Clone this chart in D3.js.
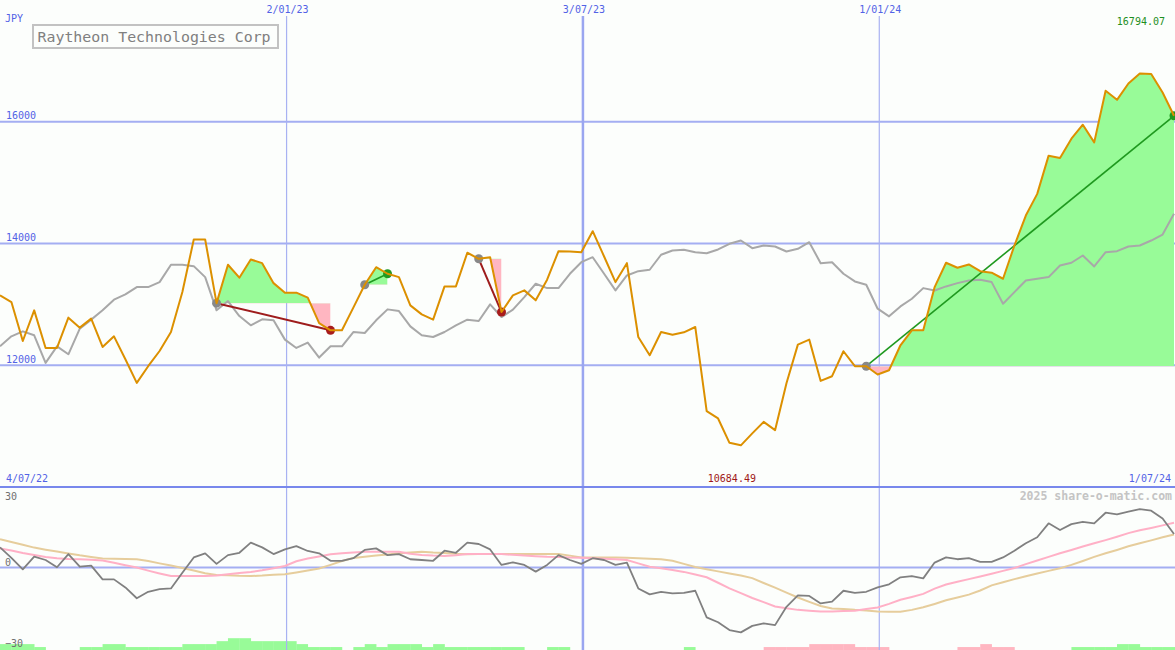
<!DOCTYPE html>
<html><head><meta charset="utf-8">
<script src="https://cdn.jsdelivr.net/npm/d3@7"></script>
<style>
html,body{margin:0;padding:0;background:#fcfefc;}
svg{display:block;}
text{font-family:"DejaVu Sans Mono","Liberation Mono",monospace;}
</style></head><body>
<svg id="c" width="1175" height="650"></svg>
<script>
const title = "Raytheon Technologies Corp";
const currency = "JPY";
const startDate = new Date(2022, 6, 10);
const endDate = new Date(2024, 5, 30);

const price = [13148, 13038, 12398, 12902, 12284, 12284, 12782, 12618, 12766, 12300,
 12475, 12098, 11710, 11984, 12234, 12546, 13202, 14066, 14066, 13020,
 13651, 13438, 13738, 13677, 13349, 13192, 13192, 13110, 12693, 12574,
 12574, 12946, 13323, 13611, 13503, 13448, 12984, 12836, 12749, 13295,
 13295, 13848, 13749, 13775, 12874, 13148, 13230, 13066, 13405, 13874,
 13869, 13857, 14202, 13787, 13366, 13677, 12464, 12164, 12546, 12500,
 12541, 12628, 11246, 11126, 10726, 10684.49, 10880, 11070, 10934, 11705,
 12339, 12421, 11743, 11820, 12230, 11984, 11984, 11848, 11918, 12328,
 12574, 12574, 13284, 13684, 13602, 13656, 13546, 13520, 13421, 13967,
 14459, 14815, 15443, 15405, 15721, 15951, 15661, 16508, 16360, 16628,
 16794.07, 16785, 16480, 16098];

const average = [12311, 12475, 12557, 12492, 12038, 12311, 12180, 12602, 12749, 12902,
 13077, 13164, 13284, 13284, 13366, 13651, 13651, 13628, 13448, 12902,
 13054, 12808, 12656, 12754, 12738, 12421, 12284, 12372, 12126, 12311,
 12311, 12546, 12530, 12738, 12918, 12890, 12639, 12492, 12464, 12546,
 12656, 12749, 12726, 13000, 12792, 12913, 13120, 13339, 13267, 13267,
 13503, 13693, 13775, 13503, 13229, 13475, 13546, 13569, 13815, 13885,
 13897, 13857, 13841, 13902, 13995, 14049, 13923, 13967, 13951, 13869,
 13913, 14021, 13677, 13693, 13503, 13377, 13323, 12929, 12803, 12967,
 13093, 13267, 13229, 13295, 13349, 13393, 13405, 13366, 13011, 13202,
 13393, 13421, 13448, 13639, 13684, 13803, 13623, 13857, 13874, 13951,
 13967, 14049, 14147, 14487];

const momentum = [7.8, 3.7, -0.7, 4.2, 2.9, 0.1, 5.2, 0.3, 0.7, -4.6,
 -4.6, -7.7, -11.9, -9.4, -8.4, -8.1, -2.0, 3.9, 5.5, 1.4,
 4.8, 5.7, 9.6, 7.8, 5.2, 7.0, 8.3, 6.4, 5.5, 2.6,
 2.6, 3.6, 6.8, 7.4, 4.8, 5.2, 3.2, 2.9, 2.6, 6.5,
 5.7, 9.6, 9.1, 7.0, 1.0, 2.0, 1.0, -1.6, 1.0, 4.8,
 2.9, 1.4, 3.6, 2.9, 1.0, 1.9, -8.1, -10.4, -9.4, -10.0,
 -9.8, -9.0, -19.3, -21.2, -24.2, -25.1, -22.6, -21.6, -22.3, -15.2,
 -10.8, -11.0, -13.9, -13.2, -9.0, -9.8, -9.4, -7.7, -6.5, -3.8,
 -3.3, -4.2, 1.9, 3.9, 3.2, 3.6, 2.2, 2.2, 3.9, 6.5,
 9.4, 11.7, 17.1, 14.5, 16.8, 17.7, 17.1, 21.2, 20.6, 21.6,
 22.6, 22.0, 19.0, 13.0];

const signal = [7.4, 6.6, 5.6, 4.8, 4.1, 3.6, 3.3, 3.2, 3.0, 2.7,
 1.8, 0.9, 0.0, -1.2, -2.3, -3.3, -3.3, -3.3, -3.3, -3.1,
 -2.6, -2.1, -1.7, -1.1, -0.3, 0.6, 2.4, 3.5, 4.3, 5.1,
 5.5, 5.8, 6.1, 6.1, 6.1, 6.1, 5.3, 4.8, 4.6, 4.5,
 4.7, 5.2, 5.2, 5.2, 5.2, 4.9, 4.6, 4.4, 4.2, 4.1,
 3.9, 3.8, 3.6, 3.4, 3.2, 2.9, 1.6, 0.3, -0.3, -1.0,
 -1.7, -2.7, -3.8, -5.9, -8.1, -9.9, -11.8, -13.4, -15.1, -15.8,
 -16.4, -16.7, -17.0, -17.0, -16.8, -16.7, -16.1, -15.5, -14.1, -12.5,
 -11.4, -10.2, -8.2, -6.6, -5.5, -4.5, -3.5, -2.4, -1.3, -0.2,
 1.3, 2.7, 4.1, 5.5, 6.8, 8.1, 9.4, 10.6, 11.9, 13.3,
 14.4, 15.3, 16.3, 17.3];

const slow = [10.9, 9.9, 8.8, 7.7, 6.9, 6.2, 5.4, 4.7, 4.1, 3.5,
 3.4, 3.3, 3.2, 2.5, 1.6, 0.8, -0.2, -1.2, -2.2, -2.9,
 -3.0, -3.2, -3.3, -3.1, -2.8, -2.6, -1.9, -1.2, -0.4, 1.0,
 2.5, 3.7, 4.2, 4.6, 5.0, 5.5, 5.8, 6.1, 5.8, 5.6,
 5.3, 5.1, 5.2, 5.2, 5.2, 5.2, 5.2, 5.2, 5.2, 5.2,
 4.6, 3.9, 3.9, 3.9, 3.9, 3.8, 3.6, 3.4, 3.2, 2.6,
 1.4, 0.2, -0.7, -1.5, -2.3, -3.1, -4.1, -6.0, -7.8, -9.7,
 -11.6, -13.3, -14.9, -15.9, -16.1, -16.4, -16.6, -17.0, -17.1, -17.1,
 -16.4, -15.4, -14.1, -12.7, -11.6, -10.5, -8.9, -6.9, -5.7, -4.5,
 -3.4, -2.3, -1.3, -0.3, 1.0, 2.5, 4.1, 5.5, 6.8, 8.2,
 9.4, 10.5, 11.7, 12.8];

const volume = [2, 2, 2, 1, 0, 0, 0, 1, 1, 2,
 2, 1, 1, 1, 1, 1, 2, 2, 2, 3,
 4, 4, 3, 3, 3, 3, 2, 1, 1, 1,
 0, 1, 2, 1, 2, 2, 2, 1, 2, 1,
 1, 1, 1, 1, 1, 1, 0, 0, 1, 1,
 0, 0, 0, 0, 0, 0, 0, 0, 0, 0,
 1, 0, 0, 0, 0, 0, 0, -1, -1, -1,
 -1, -2, -2, -2, -2, -1, -1, -1, 0, 0,
 0, 0, 0, 0, -1, -1, -2, -1, -1, 0,
 0, 0, 0, 0, 1, 1, 1, 1, 2, 2,
 1, 1, 1, 1];

const trends = [[19, 29], [32, 34], [42, 44], [76, 103]];
const priceTicks = [12000, 14000, 16000];
const oscTicks = [30, 0, -30];
const dateTicks = [
  {date: new Date(2023, 0, 2), label: "2/01/23", major: false},
  {date: new Date(2023, 6, 3), label: "3/07/23", major: true},
  {date: new Date(2024, 0, 1), label: "1/01/24", major: false}
];
const startLabel = "4/07/22";
const endLabel = "1/07/24";
const credit = "2025 share-o-matic.com";

const dates = price.map((_, i) => d3.timeDay.offset(startDate, 7 * i));

const W = 1175, H = 650;
const svg = d3.select("#c");
const x = d3.scaleTime().domain([startDate, endDate]).range([0, 1174]);
const y = d3.scaleLinear().domain([10000, 18000]).range([487, 0]);
const yo = d3.scaleLinear().domain([-30, 30]).range([645, 490]);
const vh = d3.scaleLinear().domain([0, 4]).range([0, 11.8]);

const gridCol = "#a4aef2";
const blue = "#5262e6";

// volume bars (bottom)
const step = x(dates[1]) - x(dates[0]);
svg.append("g").selectAll("rect").data(volume.map((v, i) => ({v, d: dates[i]})).filter(o => o.v !== 0))
  .join("rect")
  .attr("x", o => x(o.d)).attr("width", step + 0.3)
  .attr("y", o => H - vh(Math.abs(o.v))).attr("height", o => vh(Math.abs(o.v)))
  .attr("fill", o => o.v > 0 ? "#98fb98" : "#ffb6c1");

// horizontal grid main
svg.append("g").selectAll("line").data(priceTicks).join("line")
  .attr("x1", 0).attr("x2", W).attr("y1", d => y(d)).attr("y2", d => y(d))
  .attr("stroke", gridCol).attr("stroke-width", 2);

// vertical grid
svg.append("g").selectAll("line").data(dateTicks).join("line")
  .attr("x1", d => x(d.date)).attr("x2", d => x(d.date))
  .attr("y1", 16).attr("y2", H)
  .attr("stroke", d => d.major ? "#9aa6f0" : "#a8b2f2")
  .attr("stroke-width", d => d.major ? 2.5 : 1.2);

// separator & zero line
svg.append("line").attr("x1", 0).attr("x2", W).attr("y1", y(10000)).attr("y2", y(10000))
  .attr("stroke", "#7888ec").attr("stroke-width", 2);
svg.append("line").attr("x1", 0).attr("x2", W).attr("y1", yo(0)).attr("y2", yo(0))
  .attr("stroke", gridCol).attr("stroke-width", 2);

// trend fills
const defs = svg.append("defs");
trends.forEach(([s, e], k) => {
  const base = price[s];
  const xs = x(dates[s]), xe = x(dates[e]), yb = y(base);
  defs.append("clipPath").attr("id", "up" + k).append("rect")
    .attr("x", xs).attr("y", 0).attr("width", xe - xs).attr("height", yb);
  defs.append("clipPath").attr("id", "dn" + k).append("rect")
    .attr("x", xs).attr("y", yb).attr("width", xe - xs).attr("height", y(10000) - yb);
  const seg = d3.range(s, e + 1);
  const area = d3.area().x(i => x(dates[i])).y0(yb).y1(i => y(price[i]));
  svg.append("path").attr("d", area(seg)).attr("fill", "#98fb98").attr("clip-path", `url(#up${k})`);
  svg.append("path").attr("d", area(seg)).attr("fill", "#ffb6c1").attr("clip-path", `url(#dn${k})`);
});

// average line
const line = (arr, ys) => d3.line().x((_, i) => x(dates[i])).y(v => ys(v))(arr);
svg.append("path").attr("d", line(average, y)).attr("fill", "none")
  .attr("stroke", "#a8a8a8").attr("stroke-width", 2).attr("stroke-linejoin", "round");

// trend lines and dots
trends.forEach(([s, e]) => {
  const up = price[e] >= price[s];
  svg.append("line")
    .attr("x1", x(dates[s])).attr("y1", y(price[s]))
    .attr("x2", x(dates[e])).attr("y2", y(price[e]))
    .attr("stroke", up ? "#1f991f" : "#9e1c1c").attr("stroke-width", up ? 1.6 : 2);
  svg.append("circle").attr("cx", x(dates[s])).attr("cy", y(price[s])).attr("r", 4.5).attr("fill", "#888888");
  svg.append("circle").attr("cx", x(dates[e])).attr("cy", y(price[e])).attr("r", 4.5)
    .attr("fill", up ? "#229922" : "#a81c1c");
});

// price line
svg.append("path").attr("d", line(price, y)).attr("fill", "none")
  .attr("stroke", "#dc9000").attr("stroke-width", 2).attr("stroke-linejoin", "round");

// oscillator lines
svg.append("path").attr("d", line(slow, yo)).attr("fill", "none")
  .attr("stroke", "#e6cd9c").attr("stroke-width", 2);
svg.append("path").attr("d", line(signal, yo)).attr("fill", "none")
  .attr("stroke", "#ffb0c6").attr("stroke-width", 2);
svg.append("path").attr("d", line(momentum, yo)).attr("fill", "none")
  .attr("stroke", "#808080").attr("stroke-width", 1.8).attr("stroke-linejoin", "round");

// labels
const txt = (t, xx, yy, opts = {}) => svg.append("text").text(t).attr("x", xx).attr("y", yy)
  .attr("font-size", opts.size || 10).attr("fill", opts.fill || blue)
  .attr("text-anchor", opts.anchor || "start").attr("font-weight", opts.weight || "normal");

txt(currency, 5, 21.5);
priceTicks.forEach(v => txt(String(v), 6, y(v) - 2.5));
dateTicks.forEach(d => txt(d.label, x(d.date) + 1, 13, {anchor: "middle"}));
txt(startLabel, 6, 482);
txt(endLabel, 1171, 482, {anchor: "end"});

const maxI = d3.maxIndex(price), minI = d3.minIndex(price);
txt(price[maxI].toFixed(2), 1165, 25, {anchor: "end", fill: "#1f8f1f"});
txt(price[minI].toFixed(2), x(dates[minI]) - 9, 482, {anchor: "middle", fill: "#a01818"});
txt(credit, 1172, 500, {anchor: "end", fill: "#c4c4c4", weight: "bold", size: 11.5});

txt(String(oscTicks[0]), 5, yo(oscTicks[0]) + 10, {fill: "#707070"});
txt(String(oscTicks[1]), 5, yo(oscTicks[1]) - 1.5, {fill: "#707070"});
txt(String(oscTicks[2]).replace("-", "\u2212"), 5, yo(oscTicks[2]) + 2, {fill: "#707070"});

// title box
svg.append("rect").attr("x", 33).attr("y", 25).attr("width", 245).attr("height", 23)
  .attr("fill", "#fcfefc").attr("stroke", "#c2c2c2").attr("stroke-width", 2);
svg.append("text").text(title).attr("x", 37.5).attr("y", 41.5)
  .attr("font-size", 14.9).attr("fill", "#808080");
</script>
</body></html>
